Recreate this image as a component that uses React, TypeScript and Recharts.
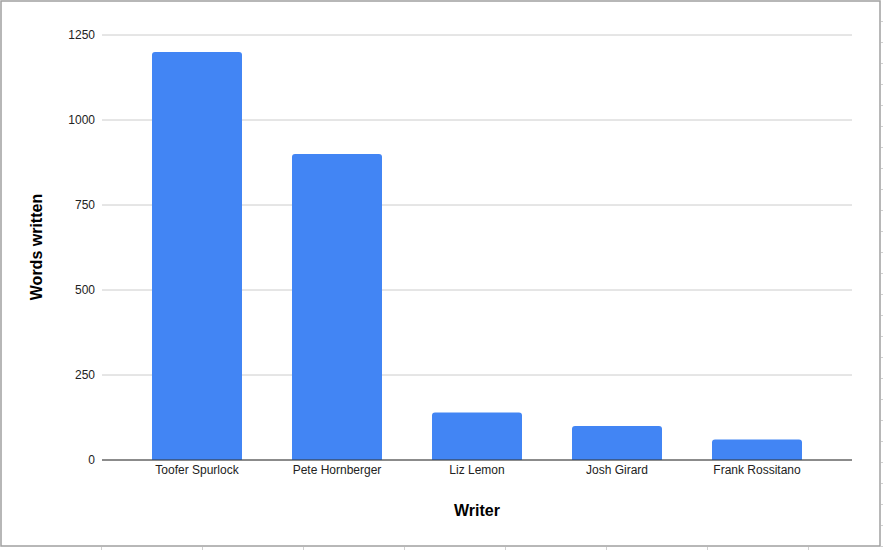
import React from 'react';
import { BarChart, Bar, XAxis, YAxis, CartesianGrid } from 'recharts';

const writers = ['Toofer Spurlock', 'Pete Hornberger', 'Liz Lemon', 'Josh Girard', 'Frank Rossitano'];
const wordsWritten = [1200, 900, 140, 100, 60];
const yTicks = [0, 250, 500, 750, 1000, 1250];

const data = writers.map((w, i) => ({ writer: w, words: wordsWritten[i] }));

const FONT = "Arial, 'Liberation Sans', sans-serif";

const bottomCells = [101, 202, 303, 404, 505, 606, 707, 808];
const rightCells = Array.from({ length: 26 }, (_, i) => 21 * (i + 1));

export default function App() {
  return (
    <div style={{ position: 'absolute', left: 0, top: 0, width: 883, height: 550, background: '#fff', overflow: 'hidden' }}>
      <svg width={883} height={550} style={{ position: 'absolute', left: 0, top: 0 }}>
        {bottomCells.map((x) => (
          <line key={'b' + x} x1={x + 0.5} x2={x + 0.5} y1={547} y2={550} stroke="#d0d0d0" strokeWidth={1} />
        ))}
        {rightCells.map((y) => (
          <line key={'r' + y} x1={881} x2={883} y1={y + 0.5} y2={y + 0.5} stroke="#d0d0d0" strokeWidth={1} />
        ))}
        <rect x={1} y={1} width={879} height={545} fill="#fff" stroke="#a0a0a0" strokeWidth={1.5} />
      </svg>
      <div style={{ position: 'absolute', left: 0, top: 0 }}>
        <BarChart
          width={883}
          height={550}
          data={data}
          margin={{ top: 35, right: 31, bottom: 60, left: 0 }}
          barCategoryGap={25}
        >
          <CartesianGrid vertical={false} stroke="#cccccc" />
          <XAxis
            dataKey="writer"
            height={30}
            padding={{ left: 25, right: 25 }}
            tickLine={false}
            tickSize={0}
            tickMargin={5}
            axisLine={{ stroke: '#333333' }}
            tick={{ fill: '#222222', fontSize: 12, fontFamily: FONT }}
            interval={0}
            label={{
              content: () => (
                <text x={477} y={516} textAnchor="middle" fontFamily={FONT} fontSize={16} fontWeight="bold" fill="#000">
                  Writer
                </text>
              ),
            }}
          />
          <YAxis
            width={102}
            domain={[0, 1250]}
            ticks={yTicks}
            tickLine={false}
            axisLine={false}
            tickSize={0}
            tickMargin={7}
            tick={{ fill: '#222222', fontSize: 12, fontFamily: FONT }}
            label={{
              content: () => (
                <text
                  x={0}
                  y={0}
                  transform="translate(42, 247) rotate(-90)"
                  textAnchor="middle"
                  fontFamily={FONT}
                  fontSize={16}
                  fontWeight="bold"
                  fill="#000"
                >
                  Words written
                </text>
              ),
            }}
          />
          <Bar dataKey="words" fill="#4285F4" radius={[3, 3, 0, 0]} isAnimationActive={false} />
        </BarChart>
      </div>
    </div>
  );
}
